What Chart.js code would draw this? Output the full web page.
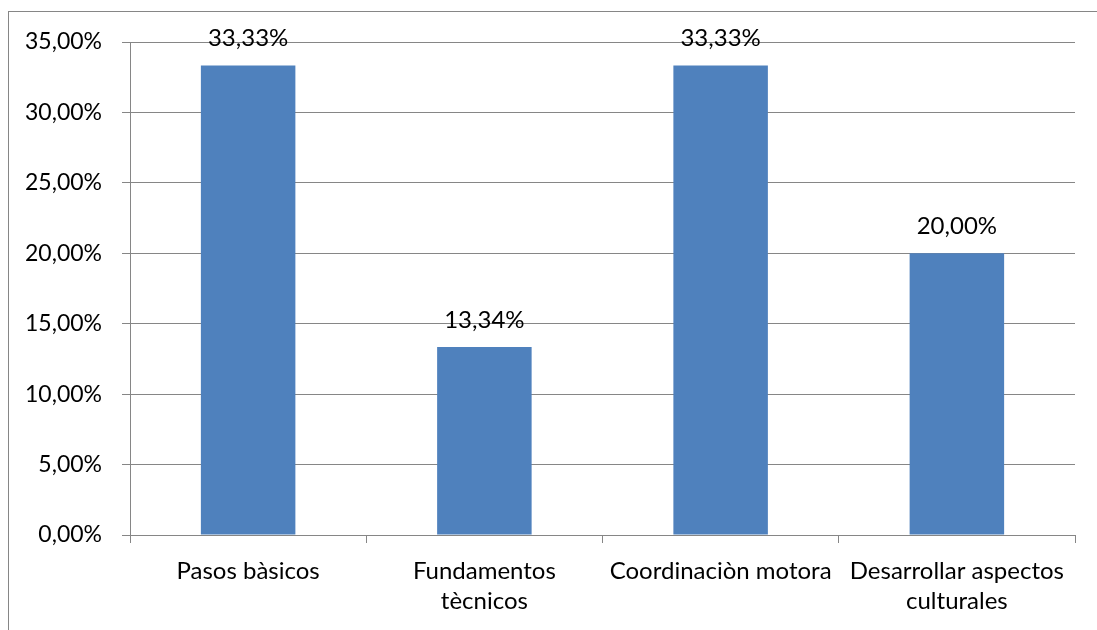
<!DOCTYPE html>
<html>
<head>
<meta charset="utf-8">
<script src="https://cdn.jsdelivr.net/npm/chart.js@4"></script>
<style>
  html, body { margin:0; padding:0; background:#fff; overflow:hidden; }
  #wrap { width:1097px; height:630px; position:relative; }
</style>
</head>
<body>
<div id="wrap"><canvas id="chart" width="1097" height="630"></canvas></div>
<script>
const categories = [
  ['Pasos bàsicos'],
  ['Fundamentos', 'tècnicos'],
  ['Coordinaciòn motora'],
  ['Desarrollar aspectos', 'culturales']
];
const values = [0.3333, 0.1334, 0.3333, 0.20];
const valueLabels = ['33,33%', '13,34%', '33,33%', '20,00%'];

const FONT = 'Lato, Calibri, "Open Sans", sans-serif';
const GRID = '#868686';

const fmtPct = (v) => (v * 100).toFixed(2).replace('.', ',') + '%';

// outer frame of the chart object (only left/top visible in the picture)
const framePlugin = {
  id: 'frame',
  beforeDraw(chart){
    const c = chart.ctx;
    c.save();
    c.strokeStyle = GRID;
    c.lineWidth = 1;
    c.strokeRect(8.5, 11.5, 3000, 3000);
    c.restore();
  }
};

const labelPlugin = {
  id: 'valueLabels',
  afterDatasetsDraw(chart){
    const c = chart.ctx;
    const meta = chart.getDatasetMeta(0);
    c.save();
    c.font = '24px ' + FONT;
    c.fillStyle = '#000';
    c.textAlign = 'center';
    c.textBaseline = 'middle';
    meta.data.forEach((bar, i) => {
      c.fillText(valueLabels[i], bar.x, bar.y - 27);
    });
    c.restore();
  }
};

new Chart(document.getElementById('chart').getContext('2d'), {
  type: 'bar',
  data: {
    labels: categories,
    datasets: [{
      data: values,
      backgroundColor: '#4F81BD',
      borderWidth: 0,
      barPercentage: 0.4,
      categoryPercentage: 1.0
    }]
  },
  options: {
    responsive: false,
    animation: false,
    layout: { padding: { left: 0, top: 42, right: 22, bottom: 0 } },
    scales: {
      x: {
        afterFit: (s) => { s.height = 95; },
        grid: { offset: true, drawOnChartArea: false, drawTicks: true, tickLength: 8, color: GRID },
        border: { display: true, color: GRID },
        ticks: {
          color: '#000', padding: 13, maxRotation: 0, autoSkip: false,
          font: { family: FONT, size: 24, lineHeight: 1.25 }
        }
      },
      y: {
        min: 0, max: 0.35,
        afterFit: (s) => { s.width = 130; },
        grid: { color: GRID, tickLength: 8, drawTicks: true },
        border: { display: true, color: GRID },
        ticks: {
          stepSize: 0.05, color: '#000', padding: 20,
          font: { family: FONT, size: 23 },
          callback: (v) => fmtPct(v)
        }
      }
    },
    plugins: {
      legend: { display: false },
      tooltip: { enabled: false }
    }
  },
  plugins: [framePlugin, labelPlugin]
});
</script>
</body>
</html>
